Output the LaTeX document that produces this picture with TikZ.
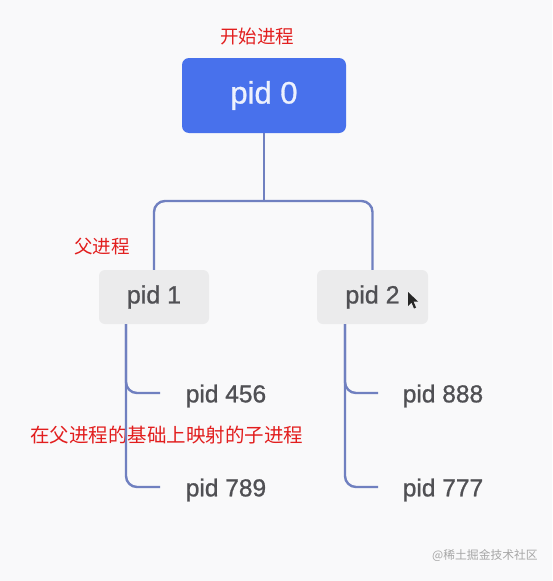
\documentclass[tikz,border=0pt]{standalone}
\usepackage{fontspec}
\setmainfont{Liberation Sans}
\newfontfamily\pidfont[FakeBold=0.9]{Liberation Sans}
\newfontfamily\cjk{Noto Sans CJK SC}
\definecolor{bg}{RGB}{249,249,250}
\definecolor{pblue}{RGB}{72,113,236}
\definecolor{pgrey}{RGB}{235,235,236}
\definecolor{ptext}{RGB}{80,80,84}
\definecolor{conncol}{RGB}{112,128,192}
\definecolor{redtxt}{RGB}{226,30,30}
\tikzset{
  rootbox/.style={fill=pblue, rounded corners=7pt, minimum width=164pt, minimum height=75pt, inner sep=0pt,
    text=white!90!pblue, font=\pidfont\fontsize{31}{36}\selectfont},
  parbox/.style={fill=pgrey, rounded corners=6pt, minimum height=54pt, inner sep=0pt,
    text=ptext, font=\pidfont\fontsize{25}{30}\selectfont},
  leaf/.style={inner sep=0pt, text=ptext, font=\pidfont\fontsize{24.5}{30}\selectfont},
  conn/.style={draw=conncol, line width=2.4pt, rounded corners=11pt},
  note/.style={inner sep=0pt, text=redtxt, font=\cjk\fontsize{18.5}{22}\selectfont},
}
\begin{document}
\begin{tikzpicture}[x=1pt,y=-1pt]
\fill[bg] (0,0) rectangle (552,581);
\useasboundingbox (0,0) rectangle (552,581);

\node[note] (t0) at (257,36) {开始进程};
\node[rootbox] (p0) at (264,95.5) {\raisebox{-4pt}{pid 0}};
\node[parbox, minimum width=110pt] (p1) at (154,297) {\raisebox{-2.5pt}{pid 1}};
\node[parbox, minimum width=111pt] (p2) at (372.5,297) {\raisebox{-2.5pt}{pid 2}};
\node[note] (t1) at (102,247) {父进程};

\node[leaf] (c456) at (226,396) {pid 456};
\node[leaf] (c789) at (226,490) {pid 789};
\node[leaf] (c888) at (443,396) {pid 888};
\node[leaf] (c777) at (443,490) {pid 777};

\node[note, font=\cjk\fontsize{19.5}{23}\selectfont] (t2) at (167,435) {在父进程的基础上映射的子进程};

\coordinate (j) at (264,201);
\coordinate (v1) at (126,324);
\coordinate (v2) at (345,324);
\coordinate (e456) at (160,393);
\coordinate (e789) at (160,487);
\coordinate (e888) at (378,393);
\coordinate (e777) at (378,487);

\draw[conn] (p0.south) -- (j);
\draw[conn] (p1.north) |- (j) -| (p2.north);
\draw[conn] (v1) |- (e456);
\draw[conn] (v1) |- (e789);
\draw[conn] (v2) |- (e888);
\draw[conn] (v2) |- (e777);

% mouse cursor
\fill[black!85] (408,292) -- (408,306) -- (411.5,302.5) -- (414,308.5) -- (416,307.5) -- (413.5,301.5) -- (418,301.5) -- cycle;

\node[inner sep=0pt, text=black!35, font=\cjk\fontsize{11.8}{14}\selectfont] (wm) at (485,556) {@稀土掘金技术社区};
\end{tikzpicture}
\end{document}
